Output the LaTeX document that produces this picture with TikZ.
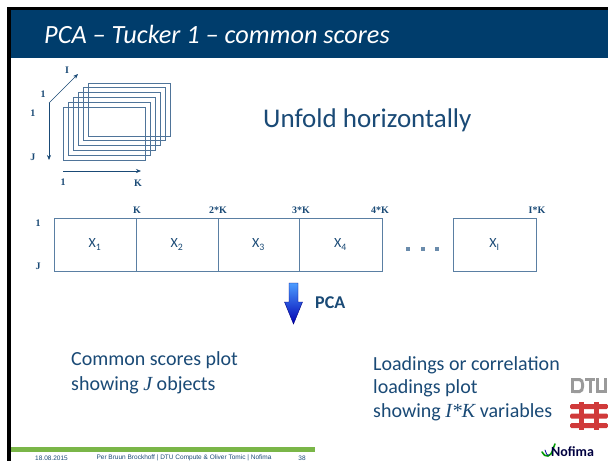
\documentclass[tikz,border=0pt]{standalone}
\usepackage{fontspec}
\setmainfont{Carlito}
\newfontfamily\serifbold{Liberation Serif}
\newfontfamily\footfont{Liberation Sans}
\usetikzlibrary{arrows.meta}
\definecolor{band}{HTML}{003D6C}
\definecolor{ink}{HTML}{1A4A76}
\definecolor{boxline}{HTML}{5A7FA3}
\definecolor{stackline}{HTML}{4F7499}
\definecolor{barg}{HTML}{7AB648}
\definecolor{dtured}{HTML}{D03A3A}
\definecolor{dtugray}{HTML}{9A9A9A}
\tikzset{
  axislabel/.style={font=\serifbold\bfseries\fontsize{10}{12}\selectfont, text=ink, inner sep=0pt},
  axisarrow/.style={draw=ink, line width=0.6pt, -{Stealth[length=5pt,width=4pt]}},
  slab/.style={draw=stackline, line width=1pt},
  block/.style={draw=boxline, line width=1pt, minimum height=53pt, inner sep=0pt,
    font=\fontsize{14}{16}\selectfont, text=ink},
  bodytext/.style={text=ink, align=left, inner sep=0pt},
  foot/.style={text=ink, inner sep=0pt, font=\footfont\fontsize{6.5}{7}\selectfont},
}
\begin{document}
\begin{tikzpicture}[x=1pt,y=-1pt]
\useasboundingbox (0,0) rectangle (608,461);
\fill[white] (0,0) rectangle (608,461);
% frame and title band
\fill[black] (7,7) rectangle (608,10);
\fill[black] (7,7) rectangle (11,461);
\fill[band] (11,10) rectangle (608,58);
\node[anchor=base west, text=white, inner sep=0pt, font=\itshape\fontsize{26.3}{30}\selectfont] (title) at (44,43) {PCA – Tucker 1 – common scores};

% stack of slices
\foreach \i in {5,4,...,0}{
  \draw[slab] ({63+5*\i},{107-4.8*\i}) rectangle ({145+5*\i},{160-4.8*\i});
}
\coordinate (o) at (49,103);
\coordinate (oi) at (78,74);
\coordinate (oj) at (49,160);
\coordinate (k0) at (63,171);
\coordinate (k1) at (141,171);
\draw[axisarrow] (o) -- (oi);
\draw[axisarrow] (o) -- (oj);
\draw[axisarrow] (k0) -- (k1);
\node[axislabel] (lI) at (67,70) {I};
\node[axislabel] (l1a) at (43,94) {1};
\node[axislabel] (l1b) at (33,113) {1};
\node[axislabel] (lJ) at (33,157) {J};
\node[axislabel] (l1c) at (63,182) {1};
\node[axislabel] (lK) at (138,183) {K};

\node[anchor=west, text=ink, inner sep=0pt, font=\fontsize{27}{29}\selectfont] (unfold) at (263,120) {Unfold horizontally};

% unfolded matrix
\node[block, minimum width=82pt] (x1) at (95,244.5) {X\textsubscript{1}};
\node[block, minimum width=82pt] (x2) at (177,244.5) {X\textsubscript{2}};
\node[block, minimum width=81pt] (x3) at (258.5,244.5) {X\textsubscript{3}};
\node[block, minimum width=83pt] (x4) at (340.5,244.5) {X\textsubscript{4}};
\node[block, minimum width=83pt] (xI) at (494.5,244.5) {X\textsubscript{I}};
\foreach \x in {408,423,437}{
  \fill[boxline!90] ({\x-2.3},246.7) rectangle ({\x+2.3},251.3);
}
\node[axislabel] (r1) at (38,223) {1};
\node[axislabel] (rJ) at (38,266) {J};
\node[axislabel] (c1) at (137,210) {K};
\node[axislabel] (c2) at (218,210) {2*K};
\node[axislabel] (c3) at (301,210) {3*K};
\node[axislabel] (c4) at (380,210) {4*K};
\node[axislabel] (cI) at (537,210) {I*K};

% PCA arrow
\shade[top color=blue!55!cyan!70!white, bottom color=blue!70!black, draw=blue!50!black, line width=0.4pt]
  (289,283) -- (298,283) -- (298,302) -- (302.5,302) -- (293.5,324) -- (284.5,302) -- (289,302) -- cycle;
\node[anchor=west, text=ink, inner sep=0pt, font=\bfseries\fontsize{18}{20}\selectfont] (pca) at (315,303) {PCA};

% captions
\node[bodytext, anchor=north west, font=\fontsize{20}{25}\selectfont] (scores) at (71,351) {Common scores plot\\showing {\serifbold\itshape J} objects};
\node[bodytext, anchor=north west, font=\fontsize{20}{23.5}\selectfont] (loads) at (373,356) {Loadings or correlation\\loadings plot\\showing {\serifbold\itshape I*K} variables};

% footer
\fill[barg] (11,447) rectangle (315,452);
\node[foot] (date) at (51.5,458) {18.08.2015};
\node[foot] (auth) at (184,458) {Per Bruun Brockhoff | DTU Compute \& Oliver Tomic | Nofima};
\node[foot] (page) at (302,458) {38};

% DTU mark
\begin{scope}[fill=dtugray]
  \fill (571,378) rectangle (574,393);
  \fill (574,378) -- (580,378) to[out=0,in=90] (584,384) -- (584,387) to[out=-90,in=0] (580,393) -- (574,393) -- (574,390) -- (579,390) to[out=0,in=-90] (581,387) -- (581,384) to[out=90,in=0] (579,381) -- (574,381) -- cycle;
  \fill (585,378) rectangle (595,381);
  \fill (588.5,378) rectangle (591.5,393);
  \fill (596,378) rectangle (599,393);
  \fill (604,378) rectangle (607,393);
  \fill (596,390) rectangle (607,393);
\end{scope}
\begin{scope}[fill=dtured]
  \fill[rounded corners=1.5pt] (570,404) rectangle (608,409);
  \fill[rounded corners=1.5pt] (570,413.5) rectangle (608,418.5);
  \fill[rounded corners=1.5pt] (570,423) rectangle (608,428);
  \fill (579,402) rectangle (584,430);
  \fill (594,402) rectangle (599,430);
\end{scope}

% Nofima mark
\draw[green!60!black, line width=1.6pt, line cap=round] (542,452) to[out=-60,in=200] (548,456) to[out=20,in=-120] (555,444);
\draw[blue!60!black, line width=0.8pt, line cap=round] (545,450) to[out=-70,in=210] (549,455);
\node[anchor=west, inner sep=0pt, text=black!75!blue, font=\bfseries\fontsize{14}{15}\selectfont] (nofima) at (551,452) {Nofima};
\end{tikzpicture}
\end{document}
